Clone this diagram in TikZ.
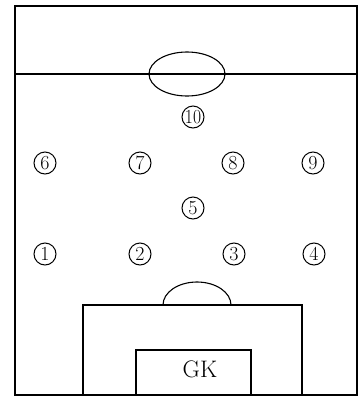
\documentclass[tikz,border=0pt]{standalone}
\usepackage{graphicx}
\begin{document}
\begin{tikzpicture}[x=1bp, y=-1bp, line width=1.1bp,
    jugador/.style={draw, circle, line width=1bp, minimum size=22bp, inner sep=0pt,
      font=\fontsize{20}{20}\selectfont}]
    \useasboundingbox (0,0) rectangle (361,396);

    % --- CAMPO ---
    \draw (15,6) rectangle (357,395);
    \draw (15,74) -- (357,74);
    \draw (187,74) ellipse [x radius=38, y radius=22];

    % Area grande y semicirculo
    \draw (83,395) -- (83,305) -- (302,305) -- (302,395);
    \draw (231,305) arc[start angle=0, end angle=-180, x radius=34, y radius=23];

    % Area chica
    \draw (136,395) -- (136,350) -- (251,350) -- (251,395);
    \node[font=\fontsize{24}{24}\selectfont] (gk) at (200,369) {GK};

    % --- JUGADORES ---
    \foreach \n/\x/\y in {1/45/254, 2/140/254, 3/234/254, 4/314/254, 5/193/208,
                          6/45/163, 7/140/163, 8/233/163, 9/313/163}
        \node[jugador] (j\n) at (\x,\y) {\n};
    \node[jugador] (j10) at (193,117) {\scalebox{0.88}[1]{10}};
\end{tikzpicture}
\end{document}
